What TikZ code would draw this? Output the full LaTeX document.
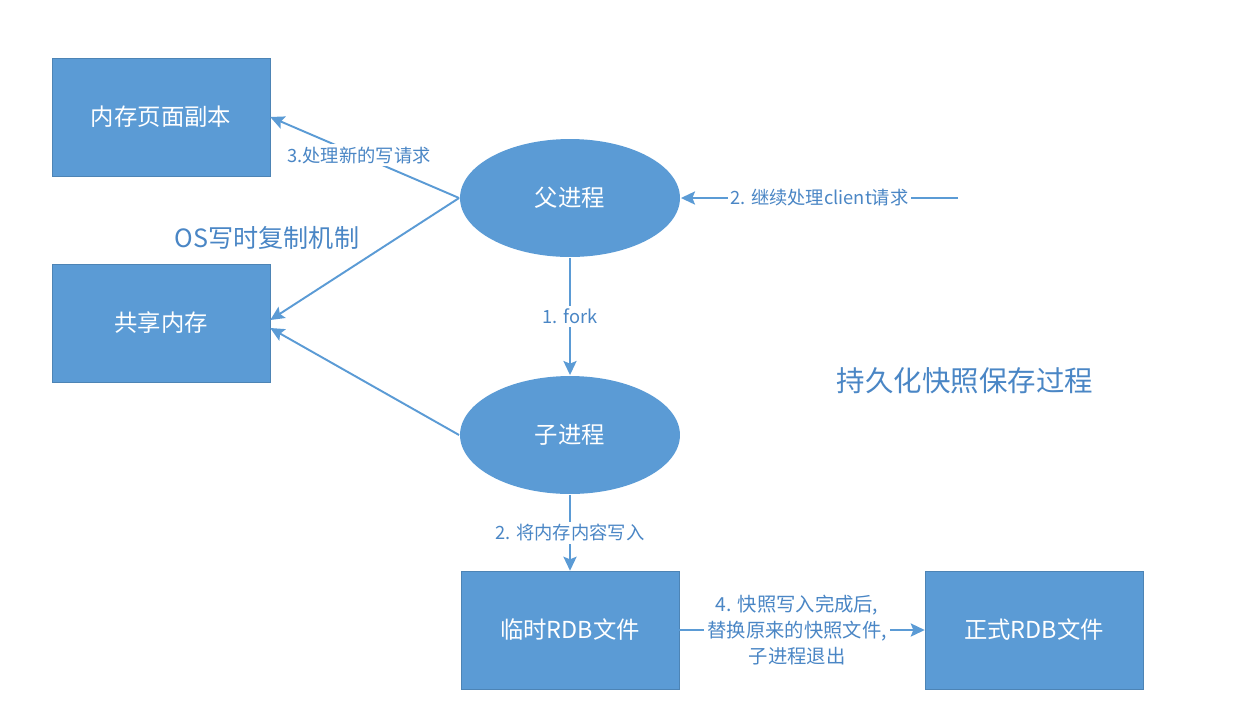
\documentclass[tikz,border=0pt]{standalone}
\usepackage{fontspec}
\setmainfont{Noto Sans CJK SC}
\usetikzlibrary{shapes.geometric, arrows.meta}
\definecolor{azul}{HTML}{5B9BD5}
\definecolor{texto}{HTML}{4A86C5}
\begin{document}
\begin{tikzpicture}[x=0.02cm, y=-0.02cm, ->, >={Stealth[length=8pt, width=7.5pt, inset=1.5pt]}, line width=1.1pt, draw=azul,
  caja/.style={rectangle, fill=azul, draw=azul!85!black, line width=0.3pt, text=white, font=\fontsize{13.3}{15}\selectfont, minimum width=4.36cm, minimum height=2.36cm},
  elipse/.style={ellipse, fill=azul, text=white, font=\fontsize{13.3}{15}\selectfont, minimum width=4.4cm, minimum height=2.36cm, inner sep=0pt},
  etiqueta/.style={fill=white, anchor=center, text=texto, font=\fontsize{10.4}{12}\selectfont, inner sep=1.5pt},
  titulo/.style={text=texto}]
\useasboundingbox (0,0) rectangle (1236,721);
% Nodos
\node [caja] (copia) at (161,117) {内存页面副本};
\node [caja] (compartida) at (161,323) {共享内存};
\node [elipse] (padre) at (570,198) {父进程};
\node [elipse] (hijo) at (570,435) {子进程};
\node [caja] (temporal) at (570,630) {临时RDB文件};
\node [caja] (formal) at (1034,630) {正式RDB文件};
\coordinate (cliente) at (958,198);
% Textos
\node [titulo, font=\fontsize{14.3}{16}\selectfont] (os) at (267,238) {OS写时复制机制};
\node [titulo, font=\fontsize{16.2}{18}\selectfont] (proceso) at (965,381) {持久化快照保存过程};
% Ejes
\draw [azul] (padre) -- node [etiqueta, pos=0.5] {1. fork} (hijo);
\draw [azul] (hijo) -- node [etiqueta, pos=0.5] {2. 将内存内容写入} (temporal);
\draw [azul] (cliente) -- node [etiqueta, pos=0.5] {2. 继续处理client请求} (padre);
\draw [azul] (padre.west) -- node [etiqueta, pos=0.53] {3.处理新的写请求} (copia.east);
\draw [azul] (padre.west) -- ([yshift=0.06cm]compartida.east);
\draw [azul] (hijo.west) -- ([yshift=-0.1cm]compartida.east);
\draw [azul] (temporal) -- node [etiqueta, pos=0.48, align=center, inner sep=2pt, font=\fontsize{11}{15}\selectfont] {4. 快照写入完成后,\\替换原来的快照文件,\\子进程退出} (formal);
\end{tikzpicture}
\end{document}
